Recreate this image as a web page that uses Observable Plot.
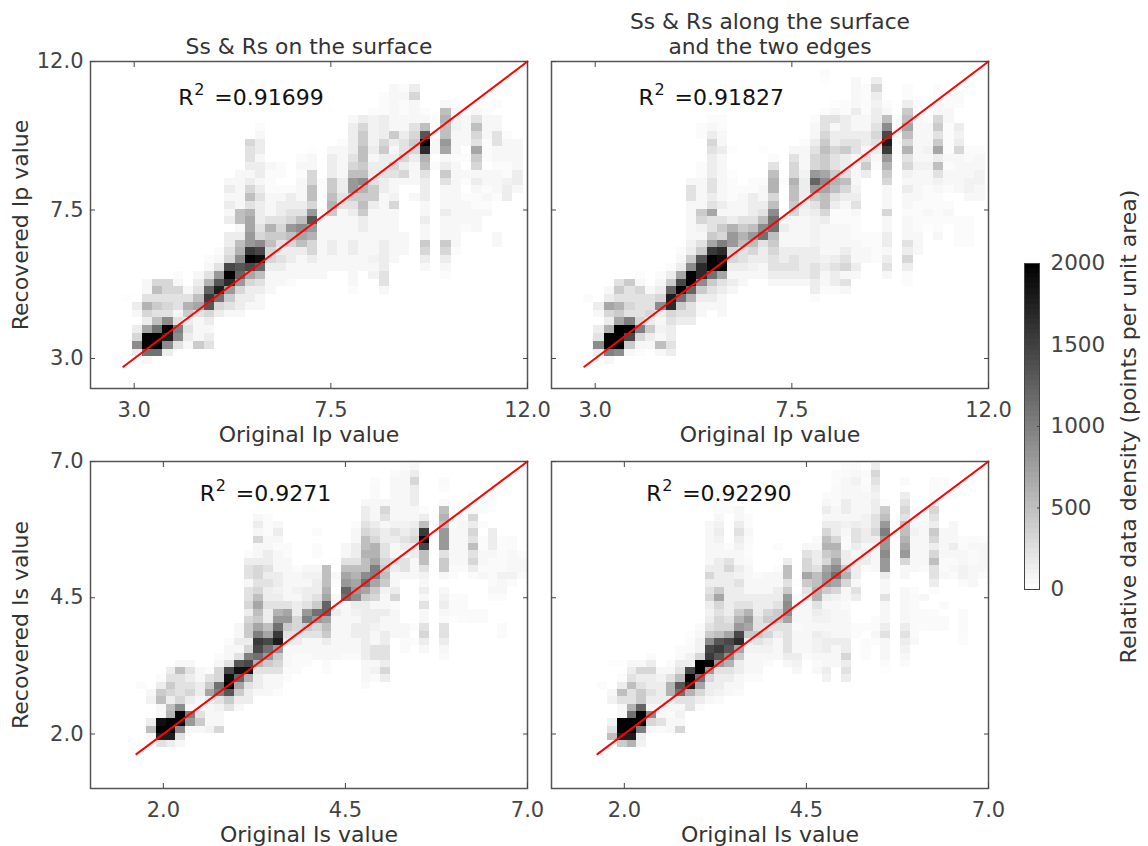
<!DOCTYPE html>
<html><head><meta charset="utf-8">
<script src="https://cdn.jsdelivr.net/npm/d3@7"></script>
<script src="https://cdn.jsdelivr.net/npm/@observablehq/plot@0.6"></script>
<style>html,body{margin:0;background:#fff}#page{position:relative;width:1148px;height:846px;overflow:hidden}svg{position:absolute;overflow:visible;background:transparent!important}</style>
</head><body><div id="page"></div>
<script>
// Each entry: [column bin, first row bin (from the top), [density read from the grey level, 20 = black]]
const densityIpSurface = [
[3,30,[.3]],[4,31,[2,1,0,2,4,10,2]],[5,28,[1,1,3,7,4,2,8,20,20,12,1]],[6,28,[4,6,3,5,3,6,12,20,20,12]],[7,28,[4,4,3,4,3,10,20,18,10,2]],
[8,27,[.5,1,4,3,3,1,3,11,10,3]],[9,29,[1,3,7,5,2,3,2,1]],[10,27,[1,2,3,6,8,3,1,1,1,5]],[11,25,[.5,1,3,7,13,16,14,4,2,1,2,3]],[12,24,[.5,1,3,9,14,18,12,4,2]],
[13,15,[1,2,1,2,1,2,0,2,2,3,4,15,20,17,9,5,3,1]],[14,14,[1,1,1,1,1,6,6,1,2,6,7,10,14,13,9,4,2,2,1]],[15,10,[4,3,3,2,1,2,4,6,3,7,8,8,9,9,16,20,15,8,4,2,2,1]],
[16,8,[.5,1,2,2,1,2,2,1,2,3,2,2,2,3,4,10,15,19,13,6,3,2,1,1]],[17,13,[1,.5,.5,.5,1,1,1,3,7,5,6,4,4,2,1,1,1]],[18,13,[.5,.5,0,.5,1,2,2,3,4,5,3,2,3,2,1,1]],
[19,16,[.5,2,2,3,4,9,6,4,2,2,1,1,.5]],[20,12,[.5,1,.5,1,1,1,2,3,6,10,8,6,2,1,1,1]],[21,11,[.3,1,1,4,4,6,6,4,9,14,9,7,4,4,2,1,1]],[22,15,[.5,.5,.5,.5,1,1,1,1,1,1,1,1,1]],
[23,11,[1,2,2,2,5,5,6,7,5,1,1,1,2,2,1,1]],[24,10,[.5,1,1,1,1,2,2,3,3,1,1,1,1,1,1,1,1]],[25,7,[1,2,2,2,2,3,4,6,9,9,5,3,2,1,1,1,2,2,1,1,1,1,.5]],
[26,7,[2,4,5,5,6,6,5,6,10,7,5,6,5,2,2,1,1,1,1,1]],[27,6,[.5,1.5,1.5,1.5,1.5,2,1,2,2,3,5,5,2,1,1,1,1,1,1,1.5,1,1.5]],[28,4,[.5,.5,.5,2,2,2,4,5,2,2,3,2,2,1,1,1,1,1,1,2,2,2,2,3,3,1]],
[29,3,[1,1,1,1,1,1,5,2,1,2,4,3,1,1,1.5,4,1,1,1,1,1,1,1]],[30,3,[.5,1,.5,.5,1,1,2,3,3,4,2,4,1,0,0,0,0,0,0,1,1,1]],[31,3,[2,4,1,1,1,3,4,5,4,2,1,1,1,0,1]],
[32,6,[.5,1,6,14,20,17,7,6,3,2,2,2,1,1,2,1,1,5,4,2,1]],[33,9,[.5,1,1,0,.5]],[34,5,[1,6,7,6,6,9,8,1,2,5,3,1,1,1,2,1,1,1,5,4,2,1,.5]],[35,6,[1,1.5,1.5,1,1,1,.5,1,1,1,1,1,1,1,1,1,1,1,.5]],
[36,6,[.5,1,1,1,1,0,.5,0,1,.5,0,.5,1,1,1,.5]],[37,6,[1,3,6,4,3,8,5,4,1,2,1,.5,.5,1,1,1]],[38,6,[.5,1,1,1,.5,.5,.5,0,1,1,.5,1,.5,1]],[39,5,[.5,0,1,1,3,3,1,1,.5,1,1,1,.5,0,0,0,0,1,1]],
[40,9,[.5,1,1,1,.5,.5,1.5,2,2]],[41,10,[1,1,1,1,2,2,1]]];
const densityIpEdges = [
[3,30,[.5]],[4,31,[2,1,0,2,3,10,2]],[5,29,[1,2,8,4,2,7,20,20,11,1]],[6,28,[3,5,3,7,5,8,20,20,20,10]],[7,28,[5,3,3,4,3,11,20,15,5,1]],[8,27,[.5,1,4,3,3,3,4,11,4,1,.5]],
[9,29,[1,3,3,4,2,5,2,1]],[10,27,[.5,1,2,4,10,2,1,1.5,1,6,1]],[11,26,[.5,2,5,13,18,17,4,3,2,2,3,2]],[12,24,[.5,1,2,8,15,20,12,5,3,2]],[13,15,[1,3,3,1,1,1,1,1,1.5,2,5,10,20,20,13,7,3,3,2]],
[14,8,[.5,.5,0,0,0,.5,.5,1,1,1,1,5,4,1.5,1,3,5,14,17,17,10,5,2,1,1]],[15,7,[.5,1,2,4,3,2,2,2,3,3,2,3,8,3,3,5,8,16,20,20,12,5,3,2,1]],[16,7,[.5,.5,1,1,2,1,1,1,1,1,1,2,1,3,5,4,11,17,19,20,8,3,2,1,1,1]],
[17,11,[.3,0,0,.3,.5,.5,.5,1,1,2,7,9,9,4,4,2,1,2,1]],[18,16,[.5,1,1,1,3,5,7,6,3,3,2,1,1]],[19,15,[.5,.5,2,2,2,3,6,9,6,4,2,1.5,1]],[20,11,[.3,0,0,0,.5,1,1,2,3,6,10,12,3,2,2,1,1]],
[21,12,[.5,3,6,7,7,4,6,10,12,12,6,5,4,3,3,2,1]],[22,15,[.5,.3,0,0,0,1,2,1,1,2,2,3,2,1]],[23,11,[1,3,4,4,7,6,6,5,4,1,1,1,1,2,3,3,2,1]],[24,10,[.5,1,1,1,1.5,2,2,2,2,1.5,1,1,1,1,2,2,2,2,1]],
[25,7,[.5,1,1,2,3,4,4,9,13,9,5,3,2,1.5,1.5,1.5,1.5,2,2,3,3,2,2,.5]],[26,1,[.5,.3,0,0,0,.5,3,3,4,5,6,5,5,8,10,8,6,6,4,2,1,1,1,1,1.5,2,1,1,.5]],[27,5,[.3,1,3,1,2,2,4,3,3,5,7,6,3,2,.5,.5,1,1,1,1,2,3,2,2,.5]],
[28,5,[.5,.5,2,2,2,3,5,2,2,3,6,4,2,1,.5,.5,1,1,1,2,3,4,1,3,1]],[29,2,[1,1,1,1,2,1,1,2,3,3,1,1,1,1,1.5,2,3,1,.5,.5,.5,1,1,1,2,1]],[30,3,[.5,.5,.5,.5,1,1,2,2,1,3,5,2,0,0,0,0,0,0,0,.5,.5,1,1]],
[31,2,[2,4,2,1.5,2,2,3,4,3,2,1,.5,0,0,0,0,0,0,0,0,.5,.5,.5,.5]],[32,5,[.5,1,6,10,15,18,16,9,7,5,4,1,1,1,4,1,1,2,2,1,2,3,1]],[33,7,[.5,.5,.5,.5,.5,.3]],
[34,3,[.5,.5,2,5,6,8,6,4,7,3,4,1.5,1,2,1,1,.5,1,1,1,3,2,4,2,.5,.5]],[35,5,[.5,.5,1,1,1,1,1,1,1.5,1,1,1,1,.5,.5,.5,.5,1,1,1]],[36,7,[.5,1,1,1,1.5,1,1.5,1,1,.5,.5,.5,1,.5,.3]],
[37,3,[.5,.7,1,1,4,5,3,5,8,2,6,3,1.5,1,.5,.5,.5,.5,.5,1]],[38,4,[.7,.7,1,1,.5,.5,.5,.5,1,.5,1,1,.5,0,.5,1,.5]],[39,4,[.7,.7,0,0,2,1.5,2,4,1,1,1,1,1,0,0,0,.5,.5,.5,.5]],
[40,11,[.7,.7,1,1,1.5,1.5,1,0,0,.5,.5,.5,.5]],[41,11,[.5,1,1,1.5,1.5,1,1]]];
const densityIsSurface = [
[-1,30,[.5]],[0,31,[1,1.5,0,0,2,6,1]],[1,29,[.5,2,5,6,1,1,19,20,18,3]],[2,28,[2,3,5,4,2,6,7,20,20,18,2]],[3,27,[1,6,3,3,3,4,10,20,20,10,3,1]],[4,27,[1,3,2,3,4,2,1,11,9,1]],[5,28,[1,1,2,2,1,1,3,5,1]],
[6,28,[.5,3,5,8,2,1,1,1,1.5]],[7,26,[.5,1,4,4,12,11,3,1.5,1,1,4]],[8,24,[.5,1,1,3,15,19,20,14,5,3]],[9,22,[1,1,2,1,3,14,19,13,8,5,2,1]],[10,12,[.5,2,3,3,1,3,3,4,2,4,5,5,2,4,11,15,19,7,3,2,2]],
[11,7,[1,2,1,4,1,1,2,4,4,3,4,6,8,6,5,8,11,16,15,12,7,3,2,2,1]],[12,7,[.5,.5,.5,1,1,2,2,3,2,3,2,2,3,2,2,6,8,15,12,9,5,3,1,1,1]],[13,8,[1,2,1,.5,1,1,1,2,2,1.5,2,3,7,9,12,16,18,9,5,4,3,1,1,.5]],
[14,11,[.7,.5,1,1,1,1,1,1,3,8,9,5,3,2,1,1,1,.7,.5]],[15,14,[.5,1,1,1.5,1,2,2,4,4,3,2,1,.7,.7,.7]],[16,14,[1,1.5,1,2,2,3,9,11,5,3,1,1,.7,.7]],[17,9,[.5,0,.5,.5,0,1,1.5,2,2,3,5,12,9,4,3,1,1,1]],
[18,14,[6,6,6,7,8,13,13,8,6,5,2,1,1,.7,.5]],[19,13,[.3,0,1,.5,0,1,1,2,1,1,1,1,1,1]],[20,11,[1,1,3,6,8,9,13,12,1,1,1,1,1,1,1,.7]],[21,8,[.5,1,1,2,2,3,6,7,8,9,10,2,1.5,1,2,2,1,1,.7]],
[22,5,[1,2,2,3,4,6,6,7,6,6,10,12,8,5,2,2,2,2,2,2,2,2,1,1,1,.7]],[23,2,[.5,.7,.7,1,1,1,2,3,4,7,7,8,11,11,8,5,4,1,2,2,1.5,1,1,3,3,1,1.5,.7]],[24,5,[1,4,3,1,2,2,3,3,4,5,6,5,1.5,1,1,2,1,1,2,2,3,3,2,4,2]],
[25,1,[.7,1,1,1,1,1,1,1.5,3,2,1,1,3,2,1,1,2,4,.7,1,1,1,1]],[26,0,[.5,1,1,1,1,1,1,1,1.5,2,3,2,1,3,3,1,0,0,0,0,0,0,1,1,.7,.7]],[27,0,[1,2,4,2,2,2,1,1,2,3,4,2,2,1,1,1,0,0,0,0,0,0,.5,0,.5]],
[28,6,[.5,2,6,16,20,15,6,6,3,1.5,1,2,1,3,1,1,3,4,2,1]],[29,8,[.5,0,.3,.3]],[30,2,[.7,.5,0,.7,6,7,6,9,9,9,3,5,5,1,0,1,1.5,2,1,.7,3,3,2,1,.7]],[31,7,[.5,.5,1,1,1,1,1,.7,.5,0,0,.5,.7,.7,.3]],
[32,5,[.3,.5,.7,1,1,1,1,1,1,.7,0,0,0,.7,.7,.7,.5]],[33,4,[.7,.7,1,4,2,4,3,6,3,4,2,.7,0,0,0,0,.7,.7]],[34,5,[.5,.5,0,.5,0,.5,.5,1,1,.7,1,0,0,0,0,.7,.7]],[35,4,[.5,.5,0,0,0,2,2,2,1,.7,.7,.7,.7,1,.5]],
[36,10,[.5,.5,.5,.7,.7,1.5,1,1,.5,0,0,0,.7,.7]],[37,10,[.7,.7,1,1,1,1.5,.7]],[38,12,[.7,1,1,.7]]];
const densityIsEdges = [
[-1,30,[.5]],[0,27,[.3,0,0,0,1,1.5,0,0,1.5,3,6]],[1,27,[.3,0,.5,2,6,3,1,1,20,20,18,5]],[2,27,[1,2,3,6,3,3,7,12,20,20,18,7]],[3,27,[1,4,2,3,5,5,13,20,20,11,2,1.5]],[4,26,[.7,2,4,2,2,3,2,1,10,4,1]],[5,28,[1,1.5,2,2,2,1,1,3,.7]],
[6,27,[.7,1,3,7,7,2,1,.7,1,1]],[7,25,[.5,.7,2,3,6,14,12,3,1,1.5,1,4]],[8,23,[.3,.5,.7,1.5,2,15,20,18,7,3,3]],[9,22,[.7,1,1.5,1.5,4,20,20,12,8,4,2,.7]],[10,8,[1,1,1,1,1,1,2,4,2,3,4,2,1.5,2,3,5,10,15,16,20,9,4,2,2,1]],
[11,5,[.5,.5,1,1.5,2,1.5,1,1,2,2,2,2,5,8,4,3,4,4,6,14,16,14,9,3,2,2,1.5,.7]],[12,5,[.3,.5,0,0,0,0,.5,1,3,4,2,2,2,2,2,2,3,4,8,15,14,10,7,3,2,1,1]],[13,6,[1,1,2,3,2,1.5,1,1,2,1.5,3,2,2,3,5,7,9,15,17,8,5,2,2,1,1,.7]],
[14,7,[.5,.5,1,.7,.5,.5,.7,1,1,1,1,2,3,7,9,8,5,2,1.5,1,1,1,.5]],[15,15,[.7,1,1,2,2,2,3,3,5,3,1.5,1,1,1,.5]],[16,15,[1,1,1,2,2,4,5,3,4,2,1.5,1,.7]],[17,11,[.5,0,0,.5,1,1,2,2,3,5,5,3,2,1,1,1]],
[18,13,[2,6,6,3,5,9,10,10,8,3,3,3,3,2,1]],[19,16,[.3,0,.5,1,1,1,.7,1,1,1,2,1.5,1]],[20,11,[1,3,4,4,8,5,3,2,1,1,1,1,1,1,1,.7]],[21,10,[.7,1,2,2,3,6,6,7,7,3,2,1.5,1,2,1.5,1.5,1,.7,1]],
[22,4,[.5,1,2,1,2,4,6,7,5,4,8,9,9,5,2,1,1.5,1.5,1,1.5,2,2,1,1,2,1.5]],[23,1,[.5,.5,.7,.7,.7,1,1,2,2,4,7,6,8,10,12,8,4,1.5,1,1,1,1,1,2,1,1,1]],[24,0,[.5,.7,1,1,1,2,2,1,1.5,1,.7,.7,2,2,5,7,4,1,1,.7,1,1,1,1,2,2,4,2,3,2]],
[25,0,[.7,1,1.5,1,1,1,1,1,2,3,3,2,1,2,2,2,1,3,2,0,0,0,.5,.5]],[26,1,[.7,.5,.7,1,1,1,1.5,1.5,2,2,1,2,2,.7,0,0,0,0,0,0,0,.5,0,.5,.5,.5]],[27,0,[2,4,3,2,1.5,2,2,3,3,4,2,1.5,1,1,1,0,0,0,0,0,0,.5,.5,1,.5]],
[28,5,[.5,5,6,9,11,9,9,10,9,9,2,1,1,3,1,1,1,2,3,1,1,1,.5,.3]],[29,8,[.5,.5,.5,.5]],[30,2,[.7,0,2,3,4,3,6,6,7,8,9,4,1,1,0,1,1,1,1,1,2,3,2,1.5,1,.7]],[31,6,[.5,.7,1,1.5,1,1,1,1,1,0,0,.5,.7,.7,.7,.7,.7,.7,1]],
[32,7,[.5,1,1,1,1,1,1,.7,0,0,0,1,0,.7,.7,.5]],[33,2,[.7,.7,.7,1,4,3,2,5,4,2,4,6,3,3,2,.5,0,0,.5,.7,.7]],[34,2,[.5,.5,.5,0,0,0,0,1,1,1,1,.7,.7,1,0,0,0,.7,0,.7,.7]],[35,3,[.5,.5,0,0,0,1,1,1,2,1,.7,1,.7]],
[36,10,[.5,.7,1,1,1.5,1.5,.7,0,0,0,.7,.7,.7,.5,.5]],[37,10,[.7,1,.7,.7,1,1,1]],[38,10,[.5,1,1,1,1,.7]]];

const titles = ["Ss & Rs on the surface", "Ss & Rs along the surface\nand the two edges", "", ""];
const xLabels = ["Original Ip value", "Original Ip value", "Original Is value", "Original Is value"];
const yLabels = ["Recovered Ip value", "", "Recovered Is value", ""];
const r2Labels = ["=0.91699", "=0.91827", "=0.9271", "=0.92290"];
const ipTicks = [3, 7.5, 12];
const isTicks = [2, 4.5, 7];
const ipLineEnds = [2.75, 12];
const isLineEnds = [1.63, 7];
const colorbarTicks = [0, 500, 1000, 1500, 2000];
const colorbarSteps = d3.range(0, 2000, 2000 / 64);

const ink = "#333";
const font = "'DejaVu Sans'";
const color = {type: "linear", domain: [0, 2000], range: ["#ffffff", "#000000"], clamp: true};
const density = v => 2000 * Math.pow(v / 20, 1.15); // grey-level reading to points per unit area

function cells(columns, x0, yTop, bin) {
  return columns.flatMap(([col, row, values]) => values.flatMap((v, i) => v === 0 ? [] : [{
    x1: x0 + col * bin, x2: x0 + (col + 1) * bin,
    y1: yTop - (row + i) * bin, y2: yTop - (row + i + 1) * bin, v: density(v)
  }]));
}

function panel(cfg) {
  const fmt = d3.format(".1f");
  const common = {ticks: cfg.ticks, tickSize: -5, color: "#444", label: null, fontSize: 21};
  const r2 = [{x: cfg.r2[0], y: cfg.r2[1]}];
  const svg = Plot.plot({
    width: 560, height: 460, marginLeft: 90, marginTop: 61, marginBottom: 72, marginRight: 33,
    style: {fontFamily: font, fontSize: "21px", color: ink, background: "transparent"},
    x: {domain: cfg.xd}, y: {domain: cfg.yd}, color,
    marks: [
      Plot.rect(cells(cfg.data, cfg.x0, cfg.yTop, cfg.bin), {x1: "x1", x2: "x2", y1: "y1", y2: "y2", fill: "v", shapeRendering: "crispEdges"}),
      Plot.line(cfg.line.map(d => ({x: d, y: d})), {x: "x", y: "y", stroke: "#ff0000", strokeWidth: 2}),
      Plot.frame({stroke: "#555", strokeWidth: 1.5}),
      Plot.axisX({...common, anchor: "bottom", tickFormat: fmt, tickPadding: 19}),
      Plot.axisX({...common, anchor: "top", tickFormat: () => ""}),
      Plot.axisY({...common, anchor: "left", tickFormat: cfg.yLabel ? fmt : () => "", tickPadding: 12}),
      Plot.axisY({...common, anchor: "right", tickFormat: () => ""}),
      Plot.text([cfg.xLabel], {frameAnchor: "bottom", text: d => d, dy: 53, fill: ink, fontSize: 22}),
      cfg.yLabel ? Plot.text([cfg.yLabel], {frameAnchor: "left", text: d => d, textAnchor: "middle", rotate: -90, dx: -70, fill: ink, fontSize: 22}) : null,
      Plot.text(r2, {x: "x", y: "y", text: () => "R", textAnchor: "start", lineAnchor: "bottom", fill: "#111", fontSize: 22}),
      Plot.text(r2, {x: "x", y: "y", text: () => "2", textAnchor: "start", lineAnchor: "bottom", dx: 16, dy: -10, fill: "#111", fontSize: 16}),
      Plot.text(r2, {x: "x", y: "y", text: () => cfg.r2Text, textAnchor: "start", lineAnchor: "bottom", dx: 36, fill: "#111", fontSize: 22}),
      cfg.title ? Plot.text([cfg.title], {frameAnchor: "top", text: d => d, lineAnchor: "bottom", dy: -8, fill: ink, fontSize: 21.8, lineHeight: 1.14}) : null
    ]
  });
  svg.style.left = cfg.left + "px";
  svg.style.top = cfg.top + "px";
  document.getElementById("page").append(svg);
}

const ipCommon = {ticks: ipTicks, xd: [2, 12], yd: [2.09, 12], line: ipLineEnds, yTop: 12, bin: 0.2355};
const isCommon = {ticks: isTicks, xd: [1, 7], yd: [1, 7], line: isLineEnds, x0: 1.769, yTop: 6.97, bin: 0.134};
panel({...ipCommon, left: 0, top: 0, data: densityIpSurface, x0: 2.01, title: titles[0], xLabel: xLabels[0], yLabel: yLabels[0], r2: [4.01, 10.67], r2Text: r2Labels[0]});
panel({...ipCommon, left: 461, top: 0, data: densityIpEdges, x0: 2.03, title: titles[1], xLabel: xLabels[1], yLabel: yLabels[1], r2: [3.99, 10.67], r2Text: r2Labels[1]});
panel({...isCommon, left: 0, top: 400, data: densityIsSurface, title: titles[2], xLabel: xLabels[2], yLabel: yLabels[2], r2: [2.5, 6.28], r2Text: r2Labels[2]});
panel({...isCommon, left: 461, top: 400, data: densityIsEdges, title: titles[3], xLabel: xLabels[3], yLabel: yLabels[3], r2: [2.3, 6.28], r2Text: r2Labels[3]});

const bar = Plot.plot({
  width: 130, height: 350, marginLeft: 24, marginRight: 91, marginTop: 13, marginBottom: 11,
  style: {fontFamily: font, fontSize: "21px", color: ink, background: "transparent"},
  x: {domain: [0, 1], axis: null}, y: {domain: [0, 2000]}, color,
  marks: [
    Plot.rect(colorbarSteps, {x1: () => 0, x2: () => 1, y1: d => d, y2: d => d + 2000 / 64, fill: d => d + 1000 / 64, shapeRendering: "crispEdges"}),
    Plot.frame({stroke: "#444", strokeWidth: 1}),
    Plot.axisY({anchor: "right", ticks: colorbarTicks, tickFormat: d => String(d), tickSize: -3, tickPadding: 14, color: "#444", fontSize: 21.5, label: null}),
    Plot.text(["Relative data density (points per unit area)"], {frameAnchor: "right", text: d => d, textAnchor: "middle", rotate: -90, dx: 89, fill: ink, fontSize: 22})
  ]
});
bar.style.left = "1000px"; bar.style.top = "250px";
document.getElementById("page").append(bar);
</script></body></html>
